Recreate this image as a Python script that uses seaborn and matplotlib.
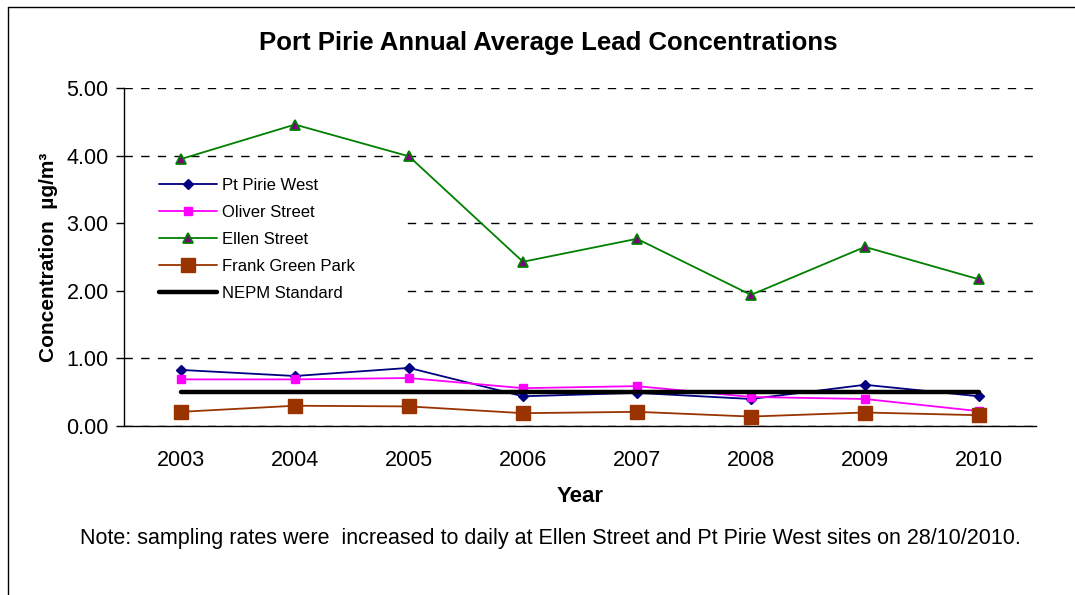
import pandas as pd
import matplotlib.pyplot as plt
import matplotlib.patches as mpatches
import seaborn as sns

# Data
years = ["2003", "2004", "2005", "2006", "2007", "2008", "2009", "2010"]
pt_pirie_west = [0.83, 0.74, 0.86, 0.44, 0.49, 0.40, 0.61, 0.44]
oliver_street = [0.69, 0.69, 0.71, 0.56, 0.59, 0.43, 0.40, 0.22]
ellen_street = [3.95, 4.46, 3.99, 2.43, 2.77, 1.94, 2.65, 2.17]
frank_green_park = [0.21, 0.30, 0.29, 0.19, 0.21, 0.14, 0.20, 0.16]
nepm_standard = [0.5] * 8
y_ticks = [0, 1, 2, 3, 4, 5]

sns.set_theme(style="white")
plt.rcParams['font.family'] = ['Liberation Sans', 'DejaVu Sans']
plt.rcParams['text.color'] = 'black'
plt.rcParams['axes.labelcolor'] = 'black'
plt.rcParams['xtick.color'] = 'black'
plt.rcParams['ytick.color'] = 'black'

df = pd.DataFrame({
    "Year": years,
    "Pt Pirie West": pt_pirie_west,
    "Oliver Street": oliver_street,
    "Ellen Street": ellen_street,
    "Frank Green Park": frank_green_park,
    "NEPM Standard": nepm_standard,
})

fig = plt.figure(figsize=(10.75, 5.95), dpi=100)
ax = fig.add_axes([0.1153, 0.284, 0.8484, 0.568])

# Series styles
styles = {
    "Pt Pirie West": dict(color="#000080", marker="D", markersize=5, lw=1.3,
                          mfc="#000080", mec="#000080"),
    "Oliver Street": dict(color="#FF00FF", marker="s", markersize=6, lw=1.3,
                          mfc="#FF00FF", mec="#FF00FF"),
    "Ellen Street": dict(color="#008000", marker="^", markersize=6.5, lw=1.3,
                         mfc="#800080", mec="#008000", mew=1.3),
    "Frank Green Park": dict(color="#993300", marker="s", markersize=10, lw=1.3,
                             mfc="#993300", mec="#993300"),
    "NEPM Standard": dict(color="black", marker=None, lw=3.2),
}

for name, st in styles.items():
    kw = dict(color=st["color"], linewidth=st["lw"], label=name, zorder=3)
    if st["marker"]:
        kw.update(marker=st["marker"], markersize=st["markersize"],
                  markerfacecolor=st["mfc"], markeredgecolor=st["mec"],
                  markeredgewidth=st.get("mew", 1))
    sns.lineplot(data=df, x="Year", y=name, ax=ax, **kw)

# Axes setup
ax.set_xlim(-0.5, len(years) - 0.5)
ax.set_ylim(0, 5)
ax.set_yticks(y_ticks)
ax.set_yticklabels([f"{v:.2f}" for v in y_ticks], fontsize=15.5)
ax.set_xticks(range(len(years)))
ax.set_xticklabels(years, fontsize=15.5)
ax.set_xticks([i - 0.5 for i in range(len(years) + 1)], minor=True)
ax.tick_params(axis="x", which="major", length=0, pad=17)
ax.tick_params(axis="x", which="minor", length=6, width=1, color="black", direction="out")
ax.tick_params(axis="y", which="major", length=6, width=1, color="black", direction="out", left=True, pad=5)

for side in ["top", "right"]:
    ax.spines[side].set_visible(False)
for side in ["left", "bottom"]:
    ax.spines[side].set_color("black")
    ax.spines[side].set_linewidth(1)

ax.yaxis.grid(True, linestyle=(0, (6, 6)), color="black", linewidth=1)
ax.xaxis.grid(False)
ax.set_axisbelow(True)

ax.set_xlabel("Year", fontsize=16, fontweight="bold", labelpad=11)
ax.set_ylabel("Concentration  µg/m³", fontsize=15, fontweight="bold", labelpad=6)
fig.text(548 / 1075, 1 - 43 / 595, "Port Pirie Annual Average Lead Concentrations",
         fontsize=18.5, fontweight="bold", ha="center", va="center")

# white area behind the legend hides part of the gridlines
ax.add_patch(mpatches.Rectangle((0, 0.34), 0.306, 0.42, transform=ax.transAxes,
                                facecolor="white", edgecolor="none", zorder=1))

leg = ax.legend(loc="upper left", bbox_to_anchor=(0.031, 0.755), frameon=False,
                fontsize=12, handlelength=3.5, handletextpad=0.3, labelspacing=0.72,
                borderaxespad=0)

fig.text(0.512, 0.095,
         "Note: sampling rates were  increased to daily at Ellen Street and Pt Pirie West sites on 28/10/2010.",
         ha="center", va="center", fontsize=15.5)

# outer chart border (left and top edges visible)
fig.add_artist(plt.Line2D([8 / 1075, 8 / 1075], [0, 1 - 7 / 595], transform=fig.transFigure,
                          color="black", linewidth=1))
fig.add_artist(plt.Line2D([8 / 1075, 1], [1 - 7 / 595, 1 - 7 / 595], transform=fig.transFigure,
                          color="black", linewidth=1))

fig.savefig("out.png", dpi=100)
